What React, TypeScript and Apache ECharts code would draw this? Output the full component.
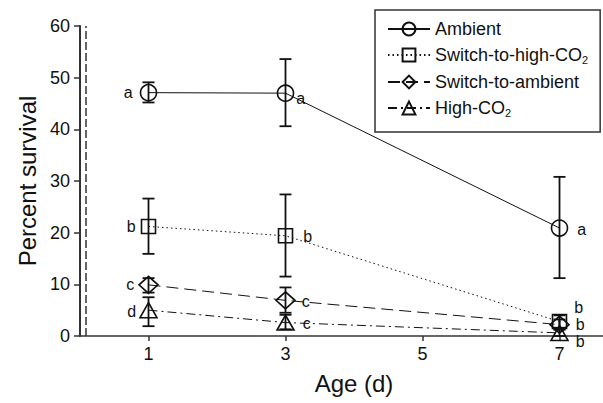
import React, { useEffect, useRef } from "react";
import * as echarts from "echarts";

// ---- data ----
const days = [1, 3, 7];
const xTicks = [1, 3, 5, 7];
const yTicks = [0, 10, 20, 30, 40, 50, 60];

const seriesNames = ["Ambient", "Switch-to-high-CO2", "Switch-to-ambient", "High-CO2"];

const ambientMean = [47.1, 47.0, 20.9];
const ambientLow = [45.2, 40.6, 11.2];
const ambientHigh = [49.1, 53.6, 30.8];
const ambientLetters = ["a", "a", "a"];

const switchHighMean = [21.2, 19.4, 2.8];
const switchHighLow = [15.9, 11.5, 1.6];
const switchHighHigh = [26.6, 27.4, 4.0];
const switchHighLetters = ["b", "b", "b"];

const switchAmbMean = [9.9, 6.9, 2.2];
const switchAmbLow = [8.4, 4.5, 1.2];
const switchAmbHigh = [11.2, 9.4, 3.2];
const switchAmbLetters = ["c", "c", "b"];

const highCO2Mean = [5.0, 2.6, 0.6];
const highCO2Low = [1.9, 1.3, 0.0];
const highCO2High = [7.5, 4.1, 1.4];
const highCO2Letters = ["d", "c", "b"];

// ---- styling (not data) ----
const FONT = "'Liberation Sans', Arial, Helvetica, sans-serif";
const INK = "#111";
// per series, per point: [position, dx, dy]
const LABEL_PLACEMENT: [string, number, number][][] = [
  [["left", -2, 0], ["right", -3, 5], ["right", 4, 1]],
  [["left", 0, 0], ["right", 5, 1], ["right", 2, -14]],
  [["left", 1, 0], ["right", 1, 1], ["right", 1, 0]],
  [["left", 2, 1], ["right", 3, 1], ["right", 2, 9]],
];
const SYMBOLS = ["circle", "rect", "diamond", "triangle"];
const SYMBOL_SIZES: any[] = [16, 14, [19, 17], [17, 15]];
const LINE_TYPES: any[] = ["solid", [1.5, 3], [12, 6], [9, 4, 2, 4]];

const groups = [
  { mean: ambientMean, low: ambientLow, high: ambientHigh, letters: ambientLetters },
  { mean: switchHighMean, low: switchHighLow, high: switchHighHigh, letters: switchHighLetters },
  { mean: switchAmbMean, low: switchAmbLow, high: switchAmbHigh, letters: switchAmbLetters },
  { mean: highCO2Mean, low: highCO2Low, high: highCO2High, letters: highCO2Letters },
];

export default function App() {
  const ref = useRef<HTMLDivElement>(null);
  useEffect(() => {
    if (!ref.current) return;
    const chart = echarts.init(ref.current, null, { renderer: "svg" });

    const lineSeries: any[] = groups.map((g, si) => ({
      name: seriesNames[si],
      type: "line",
      symbol: SYMBOLS[si],
      symbolSize: SYMBOL_SIZES[si],
      z: 3,
      lineStyle: { color: INK, width: 1, type: LINE_TYPES[si] },
      itemStyle: { color: "rgba(255,255,255,0)", borderColor: INK, borderWidth: 1.6 },
      data: days.map((d, i) => {
        const [pos, dx, dy] = LABEL_PLACEMENT[si][i];
        return {
          value: [d, g.mean[i]],
          label: {
            show: true,
            position: pos,
            distance: 5,
            offset: [dx, dy],
            formatter: g.letters[i],
            color: INK,
            fontSize: 16,
            lineHeight: 14,
            fontFamily: FONT,
          },
        };
      }),
      markLine:
        si === 0
          ? {
              silent: true,
              symbol: "none",
              label: { show: false },
              lineStyle: { color: "#333", width: 1.5, type: [8, 3] },
              data: [{ xAxis: 0.09 }],
            }
          : undefined,
    }));

    const errSeries: any[] = groups.map((g, si) => ({
      type: "custom",
      z: 2,
      silent: true,
      data: days.map((d, i) => [d, g.low[i], g.high[i]]),
      encode: { x: 0, y: [1, 2] },
      renderItem: (_p: any, api: any) => {
        const x = api.value(0);
        const lo = api.coord([x, api.value(1)]);
        const hi = api.coord([x, api.value(2)]);
        const w = 6;
        const st = { stroke: INK, lineWidth: 1.8 };
        return {
          type: "group",
          children: [
            { type: "line", shape: { x1: lo[0], y1: lo[1], x2: hi[0], y2: hi[1] }, style: st },
            { type: "line", shape: { x1: lo[0] - w, y1: lo[1], x2: lo[0] + w, y2: lo[1] }, style: st },
            { type: "line", shape: { x1: hi[0] - w, y1: hi[1], x2: hi[0] + w, y2: hi[1] }, style: st },
          ],
        };
      },
    }));

    chart.setOption({
      animation: false,
      textStyle: { fontFamily: FONT },
      grid: { left: 80, right: 0, top: 26, bottom: 67, containLabel: false },
      legend: {
        orient: "vertical",
        left: 375,
        top: 10,
        data: seriesNames,
        itemWidth: 42,
        itemHeight: 16,
        itemGap: 8,
        padding: [10, 12, 14, 12],
        borderColor: "#333",
        borderWidth: 1.5,
        backgroundColor: "#fff",
        formatter: (n: string) => n.replace("CO2", "CO{sub|2}"),
        textStyle: {
          color: INK,
          fontSize: 18,
          fontFamily: FONT,
          rich: { sub: { fontSize: 11, color: INK, fontFamily: FONT, padding: [9, 0, 0, 0] } },
        },
      },
      xAxis: {
        type: "value",
        min: 0,
        max: 8,
        name: "Age (d)",
        nameLocation: "middle",
        nameGap: 35,
        nameTextStyle: { fontSize: 24, color: INK, fontFamily: FONT },
        axisLine: { lineStyle: { color: "#333", width: 1.5 } },
        axisTick: { show: true, length: 5, customValues: xTicks, lineStyle: { color: "#333", width: 1.5 } },
        axisLabel: { customValues: xTicks, fontSize: 18, color: INK, margin: 9, fontFamily: FONT },
        splitLine: { show: false },
      },
      yAxis: {
        type: "value",
        min: 0,
        max: 60,
        interval: 10,
        name: "Percent survival",
        nameLocation: "middle",
        nameGap: 41,
        nameTextStyle: { fontSize: 24, color: INK, fontFamily: FONT },
        axisLine: { show: true, lineStyle: { color: "#333", width: 2 } },
        axisTick: { show: true, length: 6, lineStyle: { color: "#333", width: 1.5 } },
        axisLabel: {
          fontSize: 18,
          color: INK,
          margin: 10,
          fontFamily: FONT,
          formatter: (v: number) => (yTicks.includes(v) ? String(v) : ""),
        },
        splitLine: { show: false },
      },
      series: [...errSeries, ...lineSeries],
    });
    return () => chart.dispose();
  }, []);

  return (
    <div style={{ position: "fixed", left: 0, top: 0, width: 603, height: 403, overflow: "hidden", background: "#fff" }}>
      <div ref={ref} style={{ width: 628, height: 403 }} />
    </div>
  );
}
